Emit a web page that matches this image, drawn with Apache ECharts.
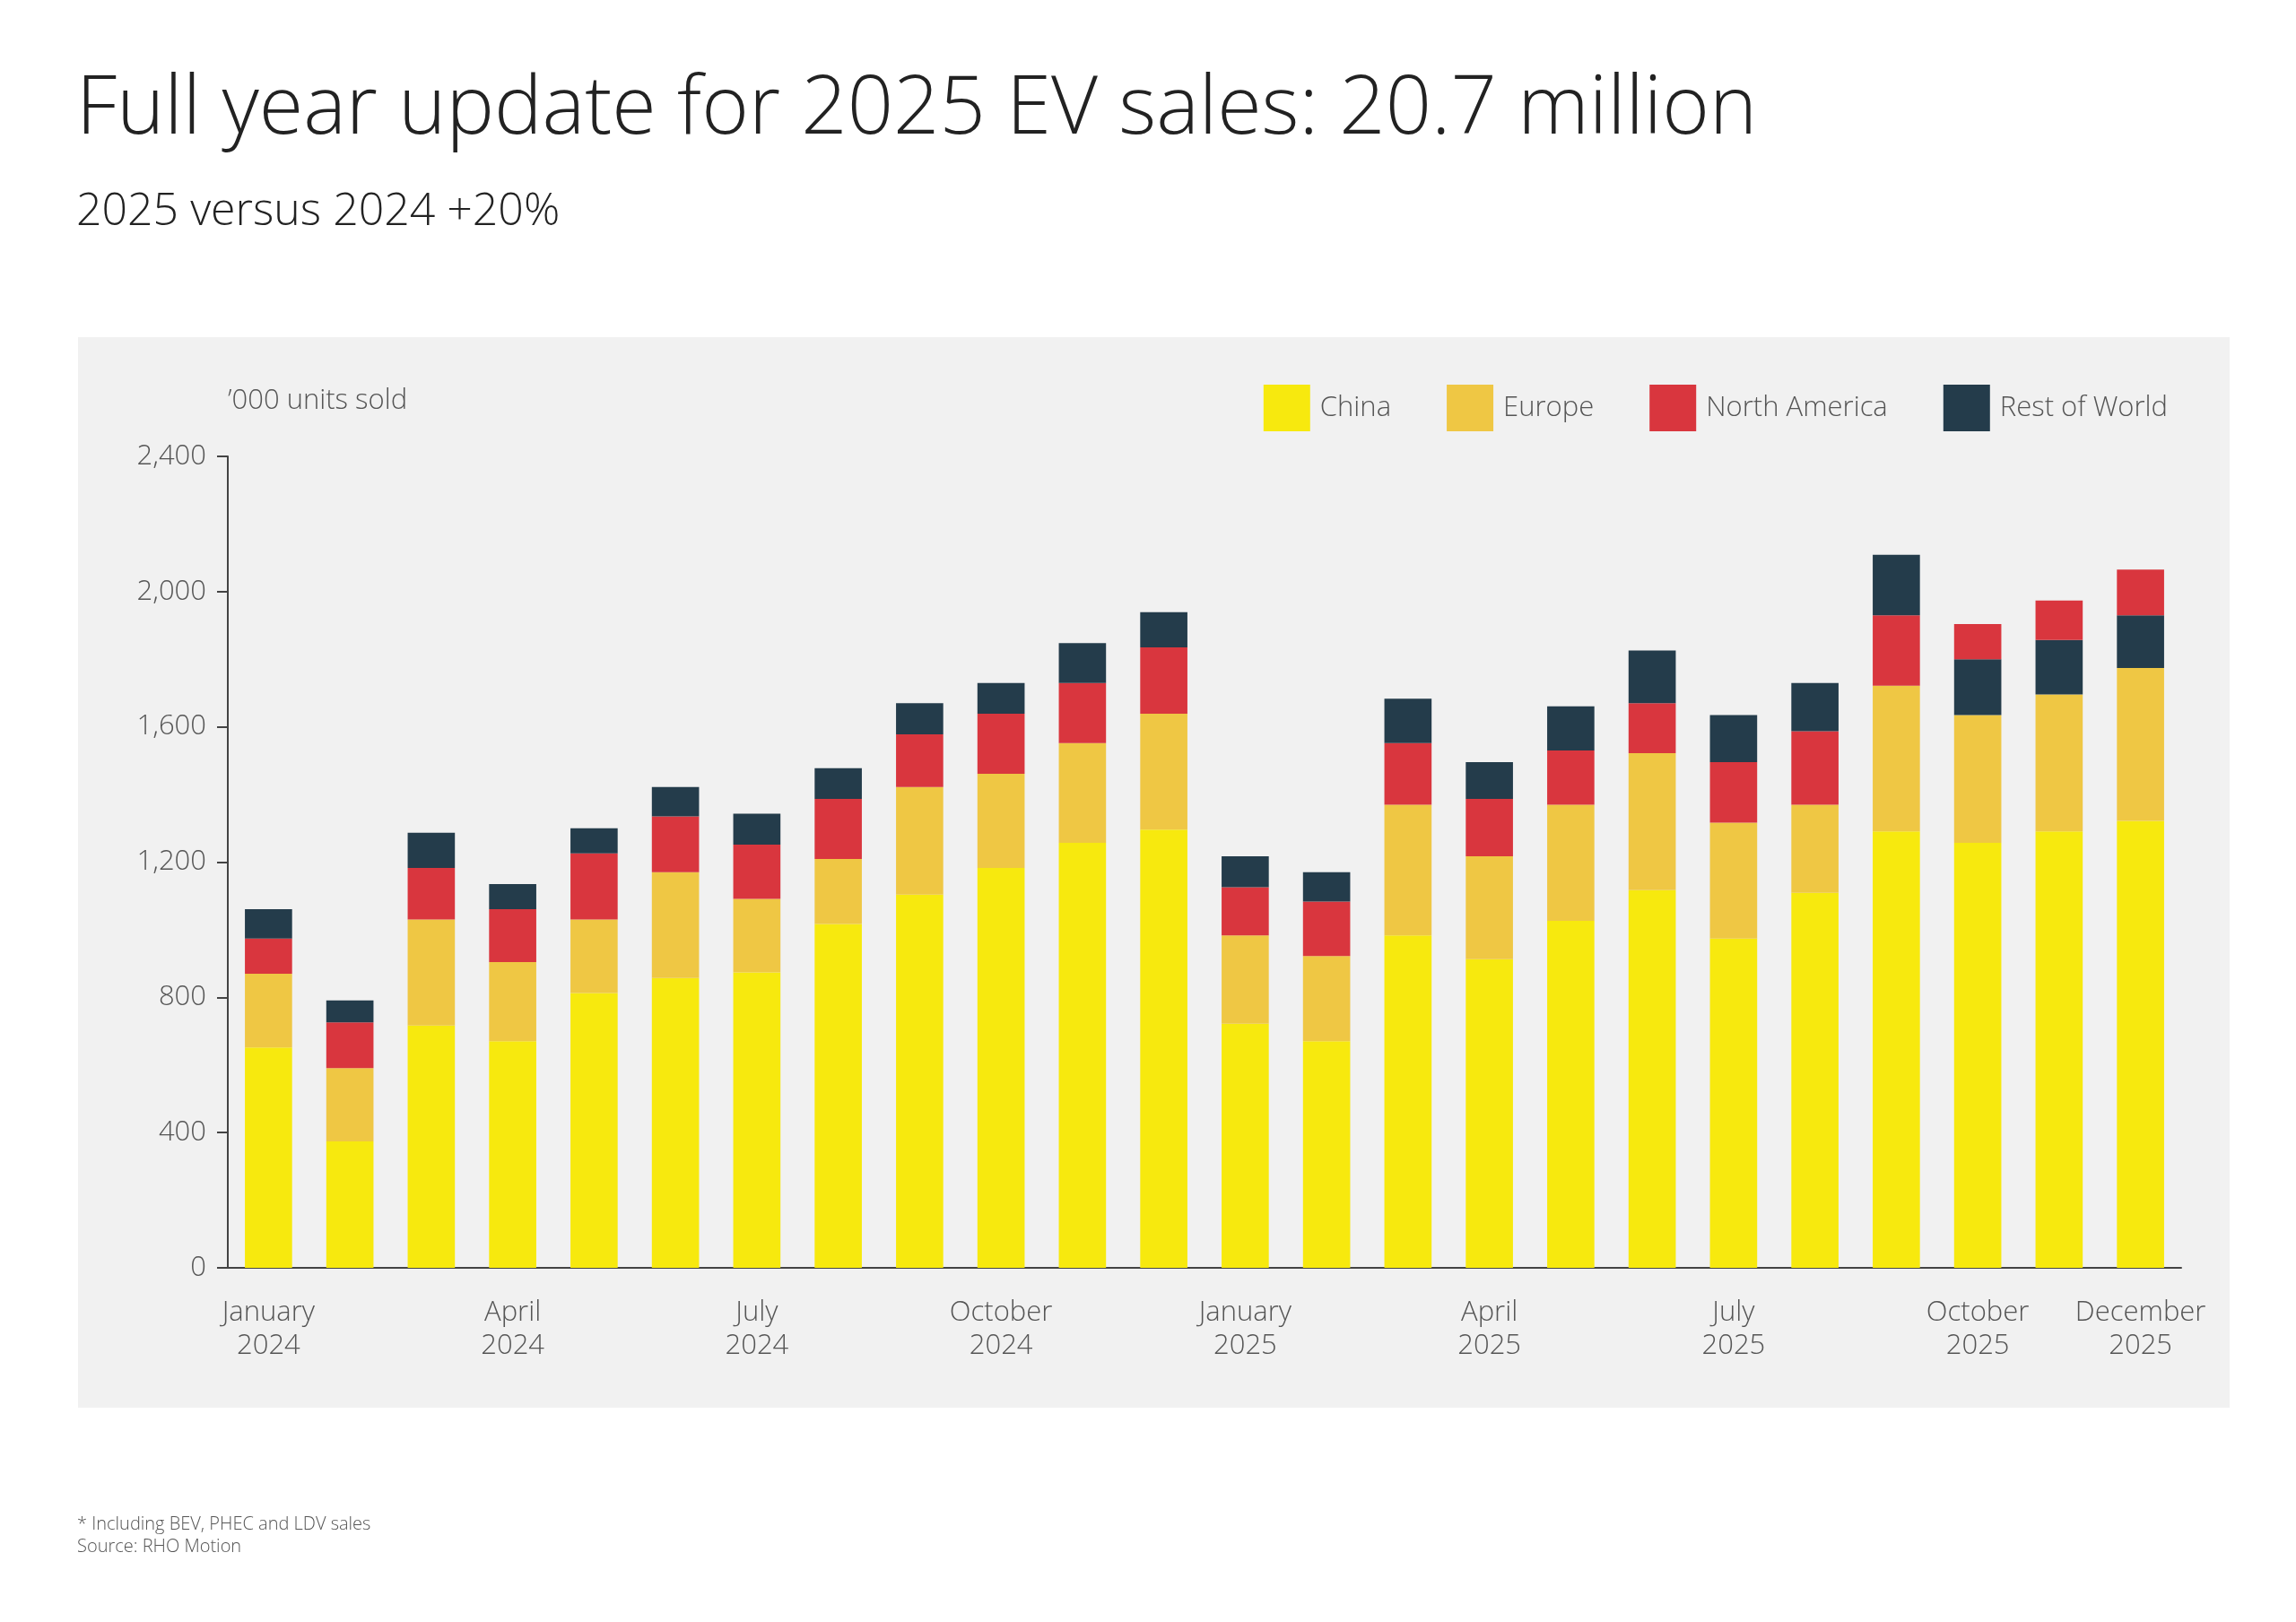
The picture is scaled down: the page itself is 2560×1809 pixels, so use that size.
<!DOCTYPE html>
<html><head><meta charset="utf-8">
<script src="https://cdn.jsdelivr.net/npm/echarts@6/dist/echarts.min.js"></script>
<style>html,body{margin:0;padding:0;background:#fff}#c{width:2560px;height:1809px}</style>
</head><body><div id="c"></div>
<script>
const months = ["January","February","March","April","May","June","July","August","September","October","November","December"];
const categories = [];
[2024,2025].forEach(y=>months.forEach(m=>categories.push(m+"\n"+y)));
const shownLabels = [0,3,6,9,12,15,18,21,23];
const china = [652,374,717,670,813,857,874,1017,1104,1183,1257,1296,722,670,983,913,1026,1117,974,1109,1291,1257,1291,1322];
const europe = [218,217,313,234,217,313,217,192,318,278,295,343,261,252,387,304,344,405,343,261,431,378,405,452];
const northAmerica = [104,135,153,157,196,165,161,178,156,178,178,196,143,161,182,170,160,148,179,217,208,104,117,135];
const restOfWorld = [87,65,104,74,74,87,91,91,92,91,118,104,91,87,131,109,131,156,139,143,179,165,161,156];
// last three months: North America stacked above Rest of World
const naTopFrom = 21;
const naBelow = northAmerica.map((v,i)=> i<naTopFrom ? v : null);
const naAbove = northAmerica.map((v,i)=> i>=naTopFrom ? v : null);

const C = {china:'#f7e90e', europe:'#efc744', na:'#d9363e', row:'#243c4b'};
const font = 'Open Sans';
const chart = echarts.init(document.getElementById('c'));
const bar = (name,data,color)=>({name,type:'bar',stack:'t',data,itemStyle:{color},barCategoryGap:'42%'});
chart.setOption({
  backgroundColor:'#fff',
  textStyle:{fontFamily:font},
  graphic:[
    {type:'rect',left:87,top:376,shape:{width:2399,height:1194},style:{fill:'#f1f1f1'},z:-10},
    {type:'text',left:85,top:78,style:{text:'Full year update for 2025 EV sales: 20.7 million',font:'300 90px "Open Sans"',fill:'#222'}},
    {type:'text',left:85,top:212,style:{text:'2025 versus 2024 +20%',font:'300 50px "Open Sans"',fill:'#222'}},
    {type:'text',left:254,top:432,style:{text:'’000 units sold',font:'300 31px "Open Sans"',fill:'#555'}},
    {type:'text',left:86,top:1688,style:{text:'* Including BEV, PHEC and LDV sales\nSource: RHO Motion',font:'300 20px "Open Sans"',fill:'#555',lineHeight:25}}
  ],
  legend:{top:424,right:138,itemWidth:52,itemHeight:52,itemGap:62,icon:'rect',
    data:['China','Europe','North America','Rest of World'],
    textStyle:{fontSize:31,fontWeight:300,color:'#555',fontFamily:font,padding:[0,0,0,6]}},
  grid:{left:254,right:128,top:509,bottom:395,containLabel:false},
  xAxis:{type:'category',data:categories,
    axisLine:{lineStyle:{color:'#444',width:2}},axisTick:{show:false},
    axisLabel:{interval:(i)=>shownLabels.includes(i),color:'#555',fontSize:31,fontWeight:300,lineHeight:37,margin:32}},
  yAxis:{type:'value',min:0,max:2400,interval:400,
    axisLine:{show:true,lineStyle:{color:'#444',width:2}},axisTick:{show:true,length:12,lineStyle:{color:'#444',width:2}},
    splitLine:{show:false},
    axisLabel:{color:'#555',fontSize:31,fontWeight:300,margin:24,formatter:v=>v.toLocaleString('en-US')}},
  series:[
    bar('China',china,C.china),
    bar('Europe',europe,C.europe),
    bar('North America',naBelow,C.na),
    bar('Rest of World',restOfWorld,C.row),
    bar('North America',naAbove,C.na)
  ]
});
</script></body></html>
